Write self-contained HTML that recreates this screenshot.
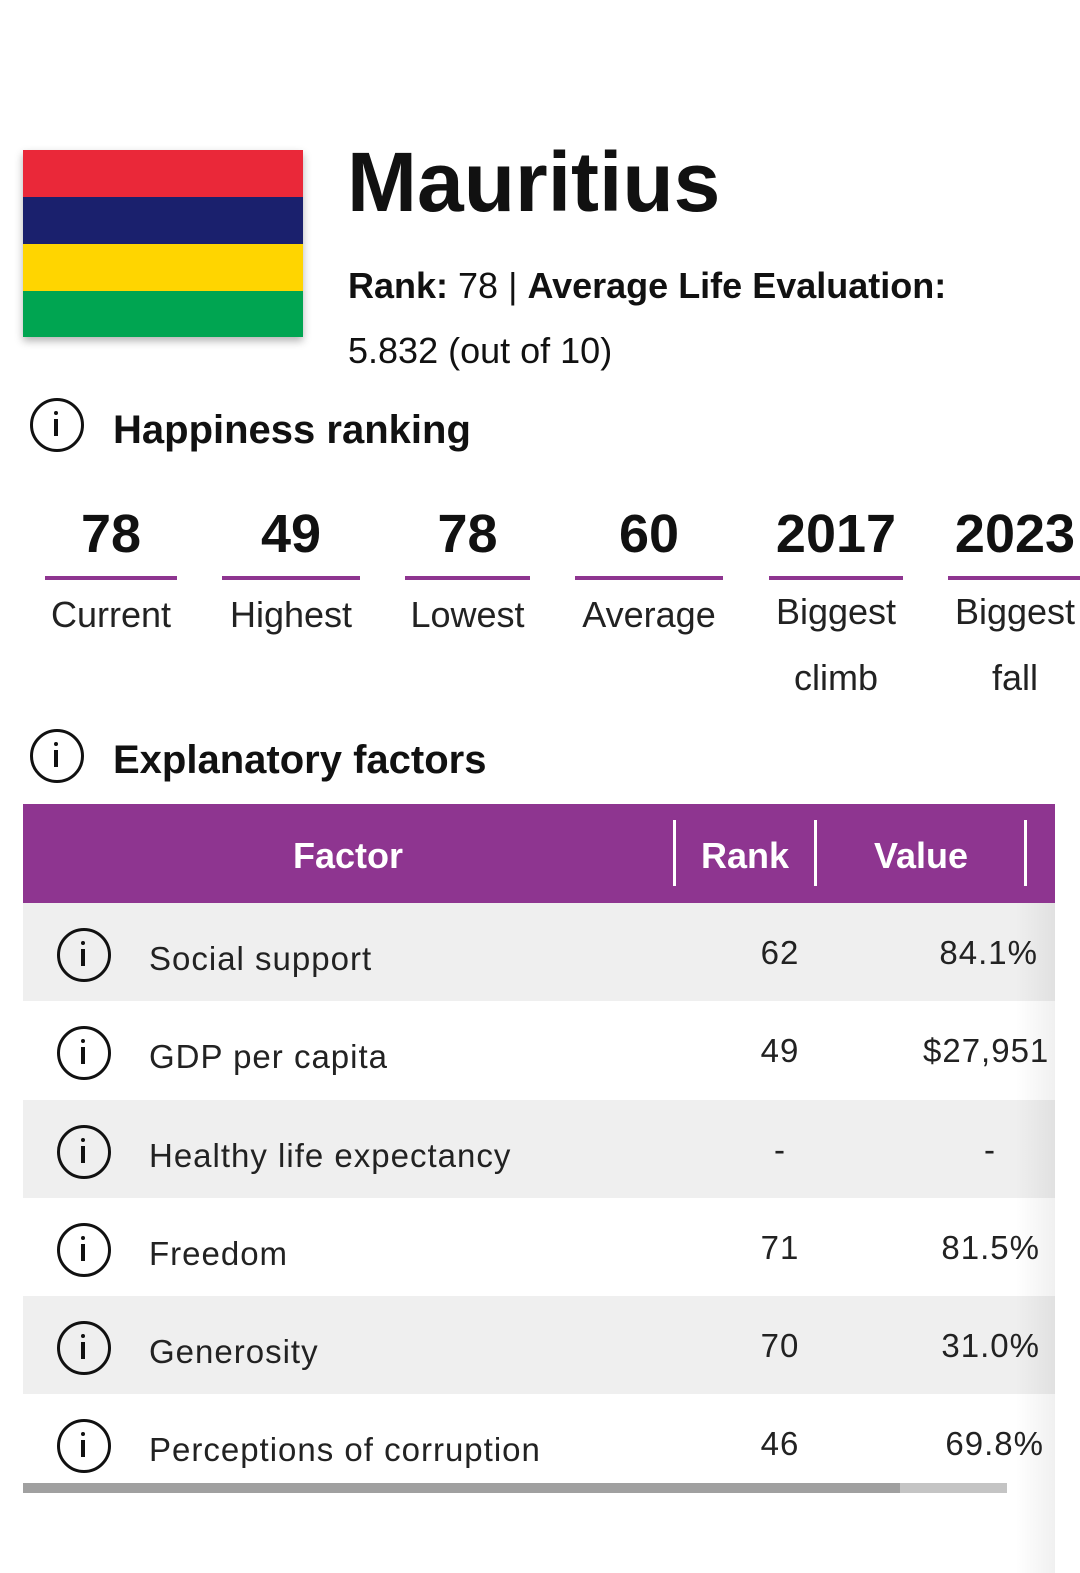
<!DOCTYPE html>
<html><head><meta charset="utf-8"><style>
body{margin:0;width:1080px;height:1573px;background:#fff;position:relative;overflow:hidden;font-family:"Liberation Sans",sans-serif;color:#111}
.a{position:absolute;white-space:nowrap}
.ic{position:absolute;width:50px;height:50px;border:3px solid #111;border-radius:50%;box-sizing:border-box}
.ic:before{content:"";position:absolute;left:21px;top:10px;width:4px;height:4px;background:#111;border-radius:50%}
.ic:after{content:"";position:absolute;left:21px;top:18px;width:4px;height:17px;background:#111}
.n{font-weight:bold;font-size:54px;text-align:center;top:503px}
.u{position:absolute;top:576px;height:4px;background:#8e3590}
.l{font-size:36px;text-align:center;color:#222}
.row{position:absolute;left:23px;width:1032px;height:98px}
.t{font-size:33px;color:#222;letter-spacing:1px}
</style></head><body>
<div class="a" style="left:23px;top:150px;width:280px;height:187px;box-shadow:0 4px 8px rgba(0,0,0,.3)">
<div style="height:47px;background:#ea2839"></div><div style="height:47px;background:#1a206d"></div><div style="height:47px;background:#ffd500"></div><div style="height:46px;background:#00a551"></div></div>
<div class="a" style="left:347px;top:134px;font-size:84px;font-weight:bold">Mauritius</div>
<div class="a" style="left:348px;top:265px;font-size:36px"><b>Rank:</b> 78 | <b>Average Life Evaluation:</b></div>
<div class="a" style="left:348px;top:330px;font-size:36px">5.832 (out of 10)</div>
<div class="ic" style="left:30px;top:398px;width:54px;height:54px"></div>
<div class="a" style="left:113px;top:408px;font-size:40px;font-weight:bold">Happiness ranking</div>
<div class="a n" style="left:45px;width:132px">78</div>
<div class="a n" style="left:222px;width:138px">49</div>
<div class="a n" style="left:405px;width:125px">78</div>
<div class="a n" style="left:575px;width:148px">60</div>
<div class="a n" style="left:769px;width:134px">2017</div>
<div class="a n" style="left:948px;width:134px">2023</div>
<div class="u" style="left:45px;width:132px"></div><div class="u" style="left:222px;width:138px"></div><div class="u" style="left:405px;width:125px"></div><div class="u" style="left:575px;width:148px"></div><div class="u" style="left:769px;width:134px"></div><div class="u" style="left:948px;width:132px"></div>
<div class="a l" style="left:45px;width:132px;top:594px">Current</div>
<div class="a l" style="left:222px;width:138px;top:594px">Highest</div>
<div class="a l" style="left:405px;width:125px;top:594px">Lowest</div>
<div class="a l" style="left:575px;width:148px;top:594px">Average</div>
<div class="a l" style="left:769px;width:134px;top:579px;line-height:66px">Biggest<br>climb</div>
<div class="a l" style="left:948px;width:134px;top:579px;line-height:66px">Biggest<br>fall</div>
<div class="ic" style="left:30px;top:729px;width:54px;height:54px"></div>
<div class="a" style="left:113px;top:738px;font-size:40px;font-weight:bold">Explanatory factors</div>
<div class="row" style="top:804px;height:99px;background:#8e3590"></div>
<div class="a" style="left:23px;width:650px;top:835px;text-align:center;color:#fff;font-weight:bold;font-size:36px">Factor</div>
<div class="a" style="left:673px;top:820px;width:3px;height:66px;background:#fff"></div>
<div class="a" style="left:676px;width:138px;top:835px;text-align:center;color:#fff;font-weight:bold;font-size:36px">Rank</div>
<div class="a" style="left:814px;top:820px;width:3px;height:66px;background:#fff"></div>
<div class="a" style="left:817px;width:208px;top:835px;text-align:center;color:#fff;font-weight:bold;font-size:36px">Value</div>
<div class="a" style="left:1024px;top:820px;width:3px;height:66px;background:#fff"></div>
<div class="row" style="top:903px;background:#efefef"></div>
<div class="row" style="top:1100px;background:#efefef"></div>
<div class="row" style="top:1296px;background:#efefef"></div>
<div class="a" style="left:1015px;top:903px;width:40px;height:670px;background:linear-gradient(to right,rgba(0,0,0,0),rgba(0,0,0,.06))"></div>
<div class="ic" style="left:57px;top:928px;width:54px;height:54px"></div><div class="a t" style="left:149px;top:940px">Social support</div><div class="a t" style="left:740px;width:80px;text-align:center;top:934px">62</div><div class="a t" style="right:42px;top:934px">84.1%</div>
<div class="ic" style="left:57px;top:1026px;width:54px;height:54px"></div><div class="a t" style="left:149px;top:1038px">GDP per capita</div><div class="a t" style="left:740px;width:80px;text-align:center;top:1032px">49</div><div class="a t" style="left:923px;top:1032px">$27,951</div>
<div class="ic" style="left:57px;top:1125px;width:54px;height:54px"></div><div class="a t" style="left:149px;top:1137px">Healthy life expectancy</div><div class="a t" style="left:740px;width:80px;text-align:center;top:1131px">-</div><div class="a t" style="left:950px;width:80px;text-align:center;top:1131px">-</div>
<div class="ic" style="left:57px;top:1223px;width:54px;height:54px"></div><div class="a t" style="left:149px;top:1235px">Freedom</div><div class="a t" style="left:740px;width:80px;text-align:center;top:1229px">71</div><div class="a t" style="right:40px;top:1229px">81.5%</div>
<div class="ic" style="left:57px;top:1321px;width:54px;height:54px"></div><div class="a t" style="left:149px;top:1333px">Generosity</div><div class="a t" style="left:740px;width:80px;text-align:center;top:1327px">70</div><div class="a t" style="right:40px;top:1327px">31.0%</div>
<div class="ic" style="left:57px;top:1419px;width:54px;height:54px"></div><div class="a t" style="left:149px;top:1431px">Perceptions of corruption</div><div class="a t" style="left:740px;width:80px;text-align:center;top:1425px">46</div><div class="a t" style="right:36px;top:1425px">69.8%</div>
<div class="a" style="left:23px;top:1483px;width:877px;height:10px;background:#a0a0a0"></div>
<div class="a" style="left:900px;top:1483px;width:107px;height:10px;background:#c4c4c4"></div>
</body></html>
